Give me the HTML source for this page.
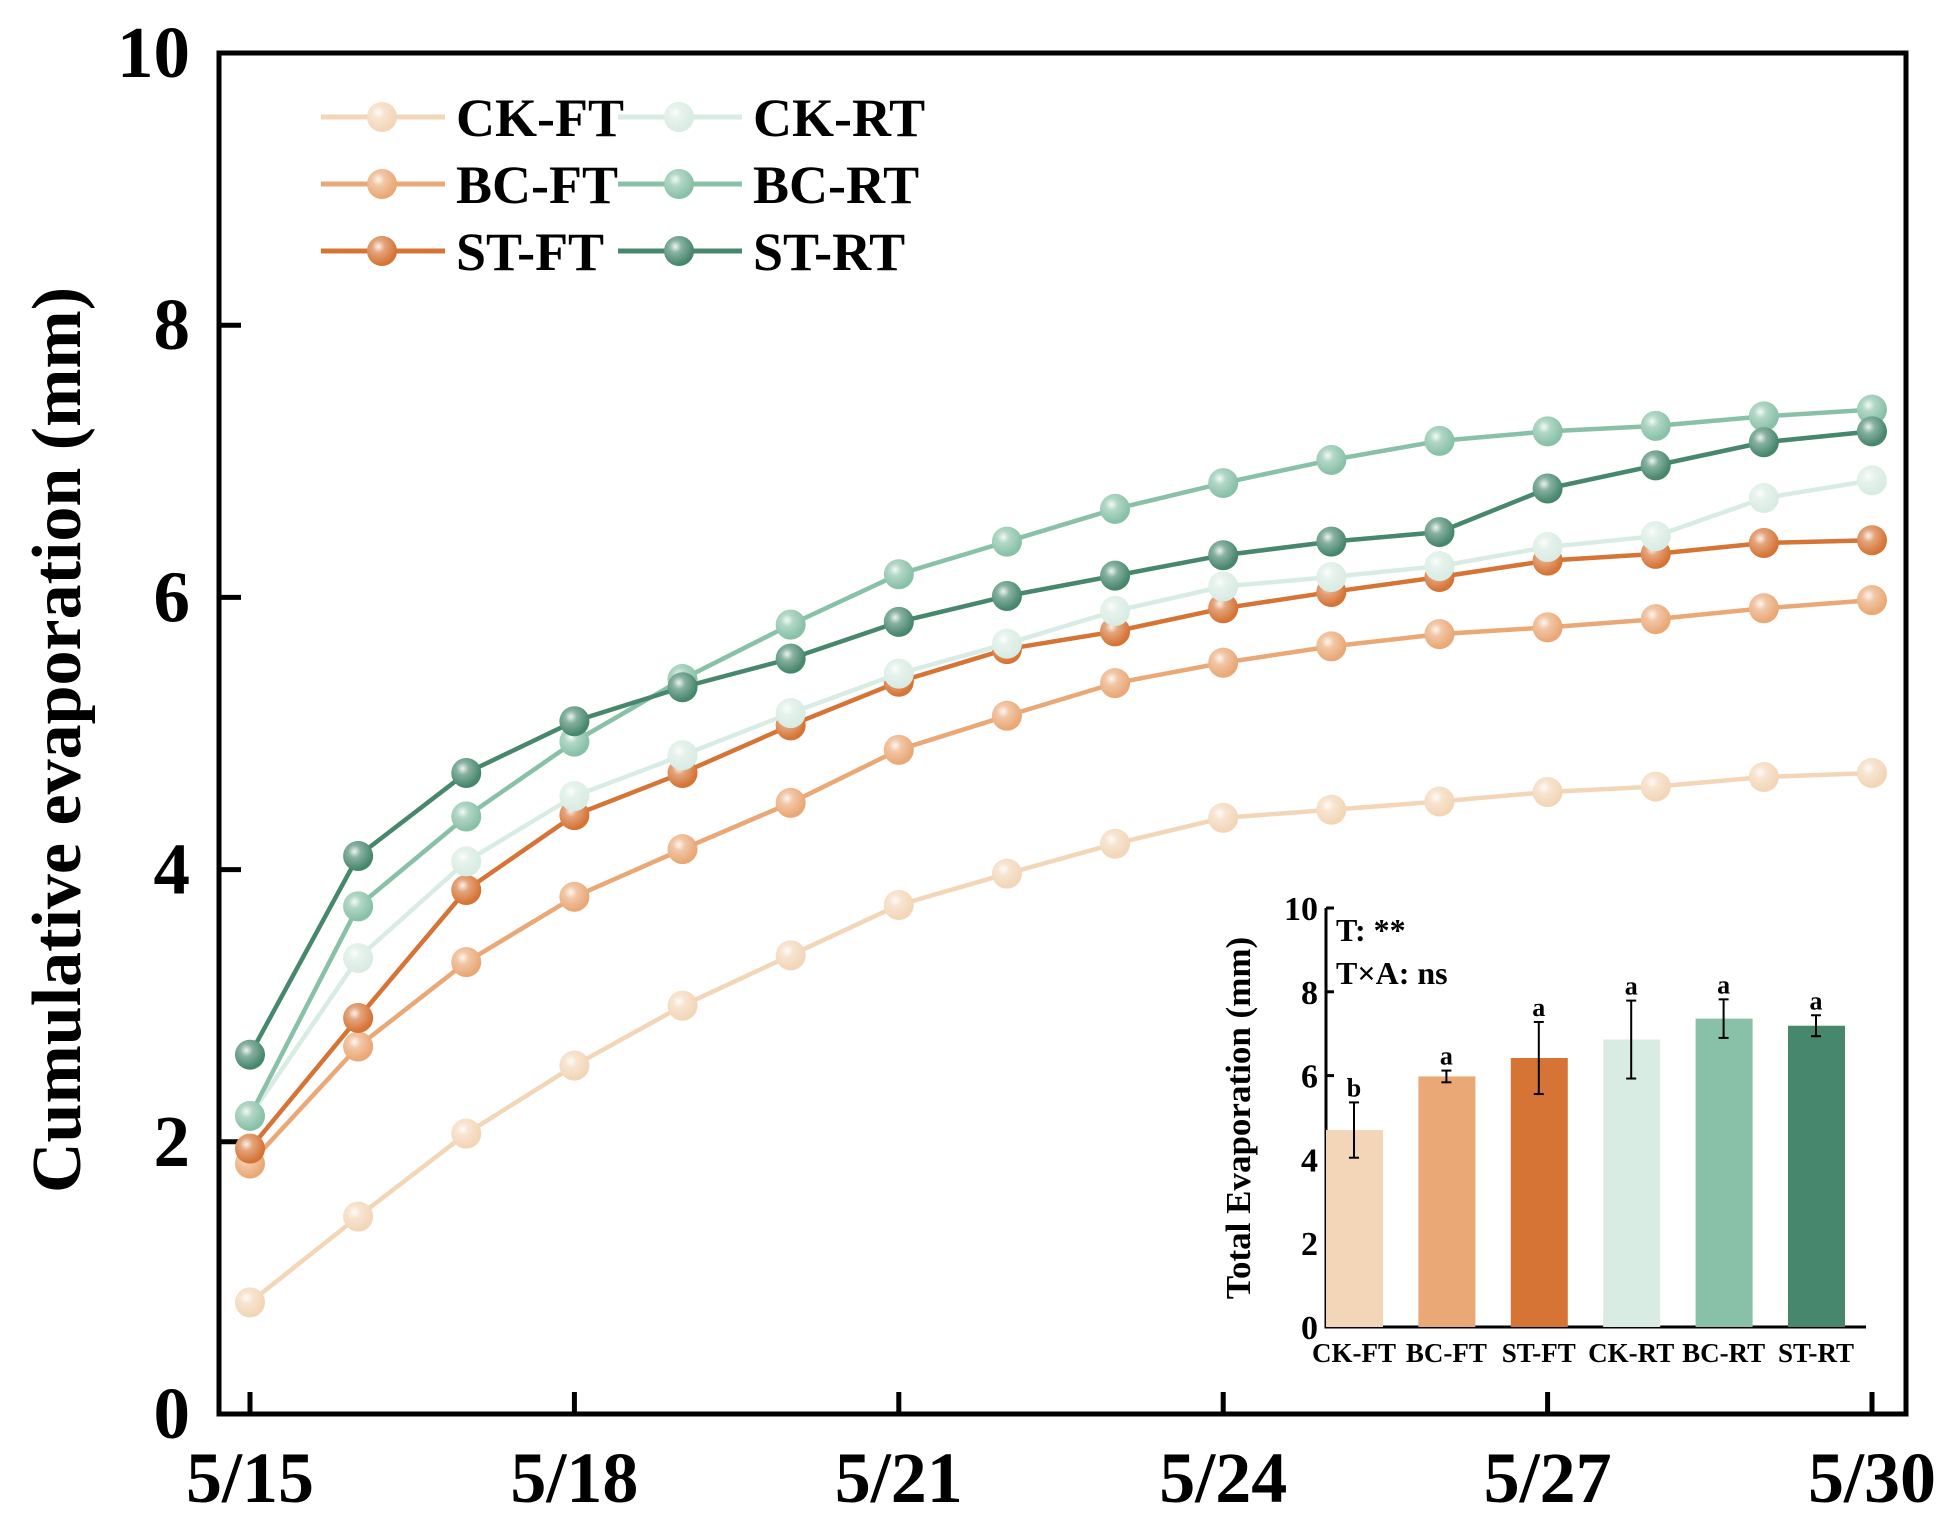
<!DOCTYPE html>
<html><head><meta charset="utf-8"><style>
body{margin:0;background:#fff}
svg{display:block;font-family:"Liberation Serif",serif;font-weight:bold}
</style></head><body>
<svg id="chart" width="1950" height="1519" viewBox="0 0 1950 1519">
<defs>
<radialGradient id="hl" cx="0.38" cy="0.35" r="0.6"><stop offset="0" stop-color="#fff" stop-opacity="0.9"/><stop offset="0.35" stop-color="#fff" stop-opacity="0.35"/><stop offset="1" stop-color="#fff" stop-opacity="0"/></radialGradient>
</defs>
<g id="main"></g>
<g id="inset"></g>
</svg>
<script>
const dates=["5/15","5/16","5/17","5/18","5/19","5/20","5/21","5/22","5/23","5/24","5/25","5/26","5/27","5/28","5/29","5/30"];
const xTickLabels=["5/15","5/18","5/21","5/24","5/27","5/30"];
const yTicks=[0,2,4,6,8,10];
const seriesNames=["CK-FT","BC-FT","ST-FT","CK-RT","BC-RT","ST-RT"];
const colors=["#f3d6b8","#eaa876","#d67436","#d9ece3","#88c1a8","#47876e"];
const ckFT=[0.82,1.45,2.06,2.56,3.0,3.37,3.74,3.97,4.19,4.38,4.44,4.5,4.57,4.61,4.68,4.71];
const bcFT=[1.84,2.70,3.32,3.80,4.15,4.49,4.88,5.13,5.37,5.52,5.64,5.73,5.78,5.84,5.92,5.98];
const stFT=[1.95,2.91,3.85,4.40,4.71,5.06,5.38,5.62,5.75,5.92,6.04,6.15,6.27,6.32,6.40,6.42];
const ckRT=[2.19,3.35,4.06,4.54,4.84,5.15,5.44,5.66,5.90,6.08,6.15,6.23,6.37,6.45,6.73,6.86];
const bcRT=[2.19,3.73,4.39,4.94,5.40,5.80,6.17,6.41,6.65,6.84,7.01,7.15,7.22,7.26,7.33,7.38];
const stRT=[2.64,4.10,4.71,5.09,5.34,5.55,5.82,6.01,6.16,6.31,6.41,6.48,6.80,6.97,7.14,7.22];
const totals=[4.70,5.98,6.42,6.86,7.36,7.19];
const totalErr=[0.66,0.14,0.86,0.93,0.46,0.25];
const sigLetters=["b","a","a","a","a","a"];
const insetTicks=[0,2,4,6,8,10];

const NS="http://www.w3.org/2000/svg";
function mk(parent,tag,attrs,text){const e=document.createElementNS(NS,tag);for(const k in attrs)e.setAttribute(k,attrs[k]);if(text!==undefined)e.textContent=text;parent.appendChild(e);return e;}
const main=document.getElementById('main');
const L=219,R=1906,T=53,B=1414;
const xS=i=>250+i*(1872-250)/15;
const yS=v=>B-v*(B-T)/10;
const allSeries=[ckFT,bcFT,stFT,ckRT,bcRT,stRT];

let fr=mk(main,'rect',{x:L,y:T,width:R-L,height:B-T,fill:'none',stroke:'#000','stroke-width':5});

yTicks.forEach(v=>{
  if(v>0&&v<10){let t=mk(main,'line',{x1:L,x2:L+22,y1:yS(v),y2:yS(v),stroke:'#000','stroke-width':5});
  }
  let lb=mk(main,'text',{x:190,y:yS(v)+24,'text-anchor':'end','font-size':73},String(v));
  
});
xTickLabels.forEach(d=>{
  const i=dates.indexOf(d);
  let t=mk(main,'line',{x1:xS(i),x2:xS(i),y1:B,y2:B-22,stroke:'#000','stroke-width':5});
  
  let lb=mk(main,'text',{x:xS(i),y:1502,'text-anchor':'middle','font-size':72},d);
  
});
let yt=mk(main,'text',{x:0,y:0,transform:'translate(80,740) rotate(-90)','text-anchor':'middle','font-size':70},'Cumulative evaporation (mm)');


function marker(g,x,y,c){
  mk(g,'circle',{cx:x,cy:y,r:15,fill:c});
  mk(g,'circle',{cx:x,cy:y,r:15,fill:'url(#hl)'});
}
allSeries.forEach((s,si)=>{
  const g=mk(main,'g',{});
  
  
  mk(g,'polyline',{points:s.map((v,i)=>xS(i)+','+yS(v)).join(' '),fill:'none',stroke:colors[si],'stroke-width':4.5});
  s.forEach((v,i)=>marker(g,xS(i),yS(v),colors[si]));
});
const lg=mk(main,'g',{});

seriesNames.forEach((n,si)=>{
  const col=Math.floor(si/3),row=si%3;
  const x0=col?618:321,y=117+row*67;
  const e=mk(lg,'g',{});
  
  mk(e,'line',{x1:x0,x2:x0+124,y1:y,y2:y,stroke:colors[si],'stroke-width':5});
  marker(e,x0+61,y,colors[si]);
  mk(e,'text',{x:x0+135,y:y+19,'font-size':54},n);
});

const ins=document.getElementById('inset');
const iL=1326,iR=1866,iB=1327,iT=908;
const iy=v=>iB-v*(iB-iT)/10;
const bx=i=>1354+i*92.4;
let ia=mk(ins,'path',{d:`M${iL},${iT} L${iL},${iB} L${iR},${iB}`,fill:'none',stroke:'#000','stroke-width':3});

insetTicks.forEach(v=>{
  mk(ins,'line',{x1:iL,x2:iL+8,y1:iy(v),y2:iy(v),stroke:'#000','stroke-width':3});
  let lb=mk(ins,'text',{x:iL-8,y:iy(v)+12,'text-anchor':'end','font-size':34},String(v));
  
});
totals.forEach((v,i)=>{
  const g=mk(ins,'g',{});
  
  mk(g,'rect',{x:bx(i)-28,y:iy(v),width:57,height:iB-iy(v),fill:colors[i]});
  const e=totalErr[i];
  mk(g,'line',{x1:bx(i),x2:bx(i),y1:iy(v+e),y2:iy(v-e),stroke:'#000','stroke-width':2});
  mk(g,'line',{x1:bx(i)-5,x2:bx(i)+5,y1:iy(v+e),y2:iy(v+e),stroke:'#000','stroke-width':2});
  mk(g,'line',{x1:bx(i)-5,x2:bx(i)+5,y1:iy(v-e),y2:iy(v-e),stroke:'#000','stroke-width':2});
  mk(g,'text',{x:bx(i),y:iy(v+e)-6,'text-anchor':'middle','font-size':26},sigLetters[i]);
  let cl=mk(ins,'text',{x:bx(i),y:1362,'text-anchor':'middle','font-size':27},seriesNames[i]);
  
});
let it=mk(ins,'text',{x:0,y:0,transform:'translate(1250,1118) rotate(-90)','text-anchor':'middle','font-size':35},'Total Evaporation (mm)');

let s1=mk(ins,'text',{x:1336,y:941,'font-size':32},'T: **');

let s2=mk(ins,'text',{x:1336,y:984,'font-size':32},'T×A: ns');

</script>
</body></html>
